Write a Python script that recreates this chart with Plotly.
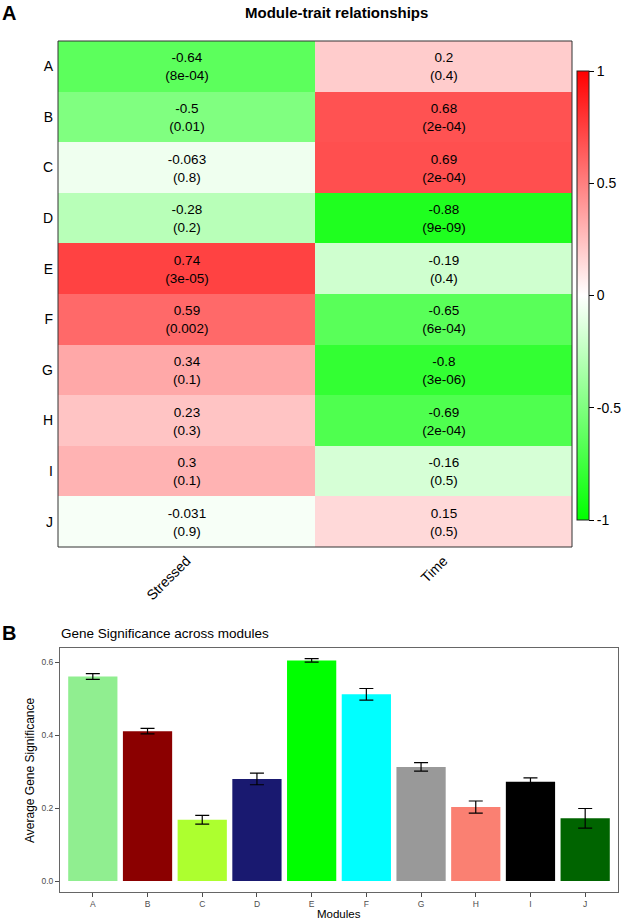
import plotly.graph_objects as go

# ---------------- data ----------------
modules = ["A", "B", "C", "D", "E", "F", "G", "H", "I", "J"]
traits = ["Stressed", "Time"]
cor_stressed = [-0.64, -0.5, -0.063, -0.28, 0.74, 0.59, 0.34, 0.23, 0.3, -0.031]
cor_time = [0.2, 0.68, 0.69, -0.88, -0.19, -0.65, -0.8, -0.69, -0.16, 0.15]
p_stressed = ["8e-04", "0.01", "0.8", "0.2", "3e-05", "0.002", "0.1", "0.3", "0.1", "0.9"]
p_time = ["0.4", "2e-04", "2e-04", "9e-09", "0.4", "6e-04", "3e-06", "2e-04", "0.5", "0.5"]

gs_mean = [0.561, 0.411, 0.168, 0.280, 0.605, 0.512, 0.313, 0.203, 0.272, 0.172]
gs_err = [0.008, 0.0075, 0.012, 0.016, 0.005, 0.016, 0.0115, 0.0165, 0.011, 0.027]
bar_colors = ["#90EE90", "#8B0000", "#ADFF2F", "#191970", "#00FF00",
              "#00FFFF", "#999999", "#FA8072", "#000000", "#006400"]
cbar_ticks = [1, 0.5, 0, -0.5, -1]

W, H = 624, 920
FONT = "Liberation Sans, Arial, Helvetica, sans-serif"


def px_x(a, b):
    return [a / W, b / W]


def px_y(top, bottom):
    return [1 - bottom / H, 1 - top / H]


z = [[s, t] for s, t in zip(cor_stressed, cor_time)]
txt = [[f"{s}<br>({ps})", f"{t}<br>({pt})"]
       for s, t, ps, pt in zip(cor_stressed, cor_time, p_stressed, p_time)]

fig = go.Figure()

fig.add_trace(go.Heatmap(
    z=z, x=traits, y=modules, text=txt, texttemplate="%{text}",
    textfont=dict(family=FONT, size=13.5, color="black"),
    colorscale=[[0, "#00FF00"], [0.5, "#FFFFFF"], [1, "#FF0000"]],
    zmin=-1, zmax=1, xaxis="x", yaxis="y", hoverinfo="skip",
    colorbar=dict(
        x=577 / W, xanchor="left", xpad=0, ypad=0,
        thickness=12, thicknessmode="pixels",
        len=449 / H, lenmode="fraction", y=1 - 295.5 / H, yanchor="middle",
        outlinewidth=1, outlinecolor="#222222",
        tickvals=cbar_ticks, ticktext=[str(v) for v in cbar_ticks],
        ticks="outside", ticklen=5, tickcolor="black",
        tickfont=dict(family=FONT, size=14, color="black"),
    ),
))

fig.add_trace(go.Bar(
    x=modules, y=gs_mean, marker=dict(color=bar_colors, line=dict(width=0)),
    width=0.9, xaxis="x2", yaxis="y2", showlegend=False, hoverinfo="skip",
    error_y=dict(type="data", array=gs_err, visible=True,
                 color="black", thickness=1.2, width=7),
))

fig.update_layout(
    width=W, height=H, margin=dict(l=0, r=0, t=0, b=0),
    paper_bgcolor="white", plot_bgcolor="white",
    font=dict(family=FONT, color="black"),
    showlegend=False,
    xaxis=dict(domain=px_x(58, 572), anchor="y", tickangle=-45,
               showgrid=False, zeroline=False, ticks="",
               ticklabelstandoff=2,
               tickfont=dict(family=FONT, size=14, color="black")),
    yaxis=dict(domain=px_y(41, 547), anchor="x", autorange="reversed",
               showgrid=False, zeroline=False, ticks="",
               ticklabelstandoff=4,
               tickfont=dict(family=FONT, size=14, color="black")),
    xaxis2=dict(domain=px_x(60, 618), anchor="y2", range=[-0.6, 9.6],
                showgrid=False, zeroline=False, showline=True, mirror=True,
                linecolor="#666666", linewidth=1,
                ticks="outside", ticklen=4, tickcolor="#4d4d4d",
                tickfont=dict(family=FONT, size=8.5, color="#4d4d4d")),
    yaxis2=dict(domain=px_y(648, 892), anchor="x2", range=[-0.030, 0.639],
                tickvals=[0, 0.2, 0.4, 0.6],
                ticktext=["0.0", "0.2", "0.4", "0.6"],
                showgrid=False, zeroline=False, showline=True, mirror=True,
                linecolor="#666666", linewidth=1,
                ticks="outside", ticklen=4, tickcolor="#4d4d4d",
                tickfont=dict(family=FONT, size=8.5, color="#4d4d4d")),
)

# heatmap border
fig.add_shape(type="rect", xref="paper", yref="paper",
              x0=58 / W, x1=572 / W, y0=1 - 547 / H, y1=1 - 41 / H,
              line=dict(color="#333333", width=1), fillcolor="rgba(0,0,0,0)")

anns = [
    dict(text="<b>A</b>", x=0, y=1 - 13 / H, xanchor="left", yanchor="middle",
         font=dict(size=20, family=FONT)),
    dict(text="<b>Module-trait relationships</b>", x=336 / W, y=1 - 12 / H,
         xanchor="center", yanchor="middle", font=dict(size=15, family=FONT)),
    dict(text="<b>B</b>", x=0, y=1 - 633 / H, xanchor="left", yanchor="middle",
         font=dict(size=20, family=FONT)),
    dict(text="Gene Significance across modules", x=59 / W, y=1 - 633 / H,
         xanchor="left", yanchor="middle", font=dict(size=13.5, family=FONT)),
    dict(text="Average Gene Significance", x=30 / W, y=1 - 770 / H, textangle=-90,
         xanchor="center", yanchor="middle", font=dict(size=12, family=FONT)),
    dict(text="Modules", x=339 / W, y=1 - 913.5 / H, xanchor="center",
         yanchor="middle", font=dict(size=11.5, family=FONT)),
]
for a in anns:
    a.update(xref="paper", yref="paper", showarrow=False)
    fig.add_annotation(**a)

fig.write_html(
    "out.html",
    config={"displayModeBar": False},
    post_script="document.body.style.margin='0';document.body.style.overflow='hidden';",
)
